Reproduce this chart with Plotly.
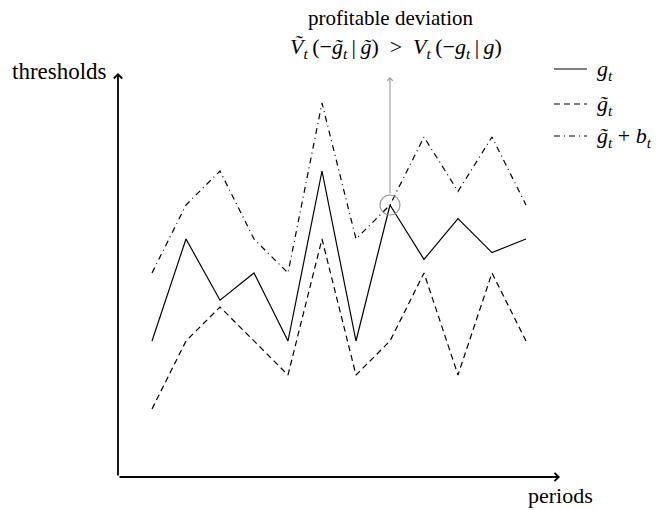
import plotly.graph_objects as go

# Periods and threshold series
periods = list(range(1, 13))
g = [4, 7, 5.2, 6, 4, 9, 4, 8, 6.4, 7.6, 6.6, 7]
g_tilde = [2, 4, 5, 4, 3, 7, 3, 4, 6, 3, 6, 4]
g_tilde_plus_b = [6, 8, 9, 7, 6, 11, 7, 8, 10, 8.4, 10, 8]

deviation_period = 8
deviation_level = 8

W, H = 663, 510
L, R, T, B = 118, 103, 73, 33
XMAX = 13
YMAX = (H - T - B) / 34.0
SERIF = "Liberation Serif, Times New Roman, serif"

fig = go.Figure()

DASHED = "6px,4px"
DASHDOT = "6px,4px,1px,4px"
for ys, dash in [(g, "solid"), (g_tilde, DASHED), (g_tilde_plus_b, DASHDOT)]:
    fig.add_trace(go.Scatter(
        x=periods, y=ys, mode="lines",
        line=dict(color="black", width=1.2, dash=dash),
        showlegend=False, hoverinfo="skip",
    ))

# Axes drawn as arrows
for (x0, y0, x1, y1) in [(0, 0, XMAX, 0), (0, 0, 0, YMAX)]:
    fig.add_annotation(x=x1, y=y1, ax=x0, ay=y0, xref="x", yref="y",
                       axref="x", ayref="y", text="", showarrow=True,
                       arrowhead=4, arrowsize=0.9, arrowwidth=1.8, arrowcolor="black",
                       standoff=0)

# Marker around the profitable deviation
r = 10 / 34.0
fig.add_shape(type="circle", xref="x", yref="y",
              x0=deviation_period - r, x1=deviation_period + r,
              y0=deviation_level - r, y1=deviation_level + r,
              line=dict(color="#999999", width=1.2))
fig.add_annotation(x=deviation_period, y=YMAX - 0.12, ax=deviation_period,
                   ay=deviation_level + r, xref="x", yref="y", axref="x", ayref="y",
                   text="", showarrow=True, arrowhead=4, arrowsize=1,
                   arrowwidth=1.1, arrowcolor="#999999", standoff=0)


def px_x(p):
    return (p - L) / (W - L - R)


def px_y(p):
    return (H - B - p) / (H - T - B)


def label(text, x, y, size, xanchor="center"):
    fig.add_annotation(x=px_x(x), y=px_y(y), xref="paper", yref="paper",
                       text=text, showarrow=False, xanchor=xanchor, yanchor="middle",
                       font=dict(family=SERIF, size=size, color="black"))


SP = "&#8201;"  # thin space
label("profitable deviation", 391, 18, 21)
label(f"<i>Ṽ</i><sub><i>t</i></sub>{SP}(−<i>g̃</i><sub><i>t</i></sub>{SP}|{SP}<i>g̃</i>)"
      f" &#160;&gt;&#160; "
      f"<i>V</i><sub><i>t</i></sub>{SP}(−<i>g</i><sub><i>t</i></sub>{SP}|{SP}<i>g</i>)",
      396, 48, 22)
label("thresholds", 109, 71, 23, xanchor="right")
label("periods", 560, 495, 22)

# Key
key = [
    ("solid", "<i>g</i><sub><i>t</i></sub>", 69),
    (DASHED, "<i>g̃</i><sub><i>t</i></sub>", 104),
    (DASHDOT, f"<i>g̃</i><sub><i>t</i></sub>&#160;+&#160;<i>b</i><sub><i>t</i></sub>", 136),
]
for dash, text, py in key:
    fig.add_shape(type="line", xref="paper", yref="paper",
                  x0=px_x(554), x1=px_x(587), y0=px_y(py), y1=px_y(py),
                  line=dict(color="black", width=1.2, dash=dash))
    label(text, 595, py + 1, 22, xanchor="left")

fig.update_xaxes(range=[0, XMAX], visible=False)
fig.update_yaxes(range=[0, YMAX], visible=False)
fig.update_layout(
    width=W, height=H, margin=dict(l=L, r=R, t=T, b=B),
    plot_bgcolor="white", paper_bgcolor="white",
)

fig.write_html("out.html")
